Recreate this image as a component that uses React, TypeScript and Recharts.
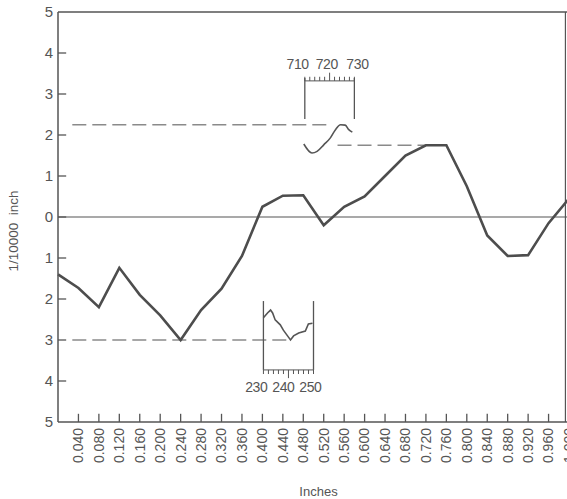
import { LineChart, Line, XAxis, YAxis, ReferenceLine, ReferenceDot, Label } from 'recharts';

// surface profile (x in inches, y in 1/10000 inch)
const INCHES = [0, 0.04, 0.08, 0.12, 0.16, 0.2, 0.24, 0.28, 0.32, 0.36, 0.4, 0.44, 0.48,
  0.52, 0.56, 0.6, 0.64, 0.68, 0.72, 0.76, 0.8, 0.84, 0.88, 0.92, 0.96, 1.0];
const DEVIATION = [-1.4, -1.73, -2.2, -1.24, -1.9, -2.4, -3.0, -2.27, -1.75, -0.95, 0.25, 0.52, 0.53,
  -0.2, 0.25, 0.5, 1.0, 1.5, 1.75, 1.75, 0.75, -0.45, -0.95, -0.93, -0.15, 0.45];

const X_TICKS = INCHES.slice(1);
const Y_TICKS = [-5, -4, -3, -2, -1, 0, 1, 2, 3, 4, 5];

// upper magnified detail (710-730)
const UPPER_X = [0.481, 0.497, 0.507, 0.52, 0.533, 0.543, 0.553, 0.562, 0.569, 0.576];
const UPPER_Y = [1.78, 1.56, 1.6, 1.76, 1.93, 2.13, 2.25, 2.24, 2.13, 2.07];
const UPPER_LABELS = [710, 720, 730];
const UPPER_LABEL_X = [0.469, 0.526, 0.586];
// lower magnified detail (230-250)
const LOWER_X = [0.402, 0.41, 0.416, 0.42, 0.425, 0.435, 0.441, 0.451, 0.455, 0.461, 0.471, 0.484, 0.49, 0.498];
const LOWER_Y = [-2.46, -2.34, -2.27, -2.34, -2.51, -2.63, -2.76, -2.93, -3.0, -2.9, -2.83, -2.78, -2.61, -2.59];
const LOWER_LABELS = [230, 240, 250];
const LOWER_LABEL_X = [0.388, 0.441, 0.494];

// dashed level lines: [x start, x end, level]
const LEVELS = [
  [0.028, 0.535, 2.25],
  [0.547, 0.72, 1.75],
  [0.028, 0.455, -3.0],
];

const zip = (xs: number[], ys: number[]) => xs.map((x, i) => ({ x, y: ys[i] }));
const profile = zip(INCHES, DEVIATION);

const INK = '#555';
const FONT = '"Liberation Sans", Arial, sans-serif';
const FRAME_RIGHT = 0.993;

// brackets of the two insets
const UP = { x0: 0.483, x1: 0.58, top: 3.39, bottom: 2.39, ruler: 3.32, label: 3.72 };
const LO = { x0: 0.402, x1: 0.5, top: -2.05, bottom: -3.73, ruler: -3.73, label: -4.14 };

const rulerTicks = (b: typeof UP, labels: number[], dir: number) => {
  const lo = labels[0];
  const hi = labels[labels.length - 1];
  const out = [];
  for (let v = lo; v <= hi; v += 2) {
    const x = b.x0 + ((v - lo) / (hi - lo)) * (b.x1 - b.x0);
    const len = v === labels[1] ? 0.2 : 0.1;
    out.push({ x, y1: b.ruler, y2: b.ruler + dir * len });
  }
  return out;
};

const InchTick = ({ x, y, payload }: any) => (
  <text x={x} y={y} transform={`rotate(-90 ${x} ${y})`} textAnchor="end" dy="0.35em"
    fontSize={14} fill={INK} fontFamily={FONT}>
    {Number(payload.value).toFixed(3)}
  </text>
);

const insetLabel = { position: 'center', fontSize: 14, letterSpacing: -0.4, fill: INK, fontFamily: FONT } as const;

export default function App() {
  const seg = (x1: number, y1: number, x2: number, y2: number, key: string, w = 1.3) => (
    <ReferenceLine key={key} segment={[{ x: x1, y: y1 }, { x: x2, y: y2 }]} stroke={INK} strokeWidth={w} />
  );

  return (
    <div style={{ position: 'absolute', left: 0, top: 0, width: 567, height: 499, overflow: 'hidden', background: '#fff' }}>
      <LineChart width={575} height={499} margin={{ top: 12, right: 6, bottom: 0, left: 0 }}>
        <XAxis type="number" dataKey="x" domain={[0, 1]} ticks={X_TICKS} interval={0}
          tick={<InchTick />} tickLine={false} tickSize={0} tickMargin={6} height={77}
          axisLine={{ stroke: INK, strokeWidth: 1.5 }}>
          <Label value="Inches" position="insideBottom" offset={3} dx={5} fontSize={13} fill={INK} fontFamily={FONT} />
        </XAxis>
        <YAxis type="number" domain={[-5, 5]} ticks={Y_TICKS} interval={0} width={58}
          tickFormatter={(v) => String(Math.abs(v))} tickLine={false} tickSize={0} tickMargin={5}
          tick={{ fontSize: 15, fill: INK, fontFamily: FONT }}
          axisLine={{ stroke: INK, strokeWidth: 1.5 }}>
          <Label
            content={({ viewBox }: any) => {
              const cx = viewBox.x + 18;
              const cy = viewBox.y + viewBox.height / 2 + 14;
              return (
                <text x={cx} y={cy} transform={`rotate(-90 ${cx} ${cy})`} textAnchor="middle"
                  fontSize={13.5} fill={INK} fontFamily={FONT} xmlSpace="preserve">
                  1/10000  inch
                </text>
              );
            }}
          />
        </YAxis>

        <ReferenceLine y={5} stroke={INK} strokeWidth={1.3} />
        <ReferenceLine y={0} stroke={INK} strokeWidth={1.1} />
        {seg(FRAME_RIGHT, -5, FRAME_RIGHT, 5, 'frame', 1.2)}

        {Y_TICKS.slice(1, -1).map((v) => seg(0, v, 0.016, v, `yt${v}`, 1.3))}
        {X_TICKS.slice(0, -1).map((v) => seg(v, -5, v, -4.8, `xt${v}`, 1.3))}

        {LEVELS.map(([a, b, lv], i) => (
          <Line key={`lv${i}`} data={[{ x: a, y: lv }, { x: b, y: lv }]} dataKey="y" stroke="#8a8a8a"
            strokeWidth={1.3} strokeDasharray="14 6" dot={false} isAnimationActive={false} />
        ))}

        {/* upper inset */}
        {seg(UP.x0, UP.top, UP.x0, UP.bottom, 'u0')}
        {seg(UP.x1, UP.top, UP.x1, UP.bottom, 'u1')}
        {seg(UP.x0, UP.ruler, UP.x1, UP.ruler, 'ur', 1)}
        {rulerTicks(UP, UPPER_LABELS, 1).map((t, i) => seg(t.x, t.y1, t.x, t.y2, `urt${i}`, 1))}
        {UPPER_LABELS.map((v, i) => (
          <ReferenceDot key={`ul${v}`} x={UPPER_LABEL_X[i]} y={UP.label} r={0}
            fill="none" stroke="none" label={{ value: String(v), ...insetLabel }} />
        ))}
        <Line data={zip(UPPER_X, UPPER_Y)} dataKey="y" type="monotone" stroke={INK} strokeWidth={1.6}
          dot={false} isAnimationActive={false} />

        {/* lower inset */}
        {seg(LO.x0, LO.top, LO.x0, LO.bottom, 'l0')}
        {seg(LO.x1, LO.top, LO.x1, LO.bottom, 'l1')}
        {seg(LO.x0, LO.ruler, LO.x1, LO.ruler, 'lr', 1)}
        {rulerTicks(LO, LOWER_LABELS, -1).map((t, i) => seg(t.x, t.y1, t.x, t.y2, `lrt${i}`, 1))}
        {LOWER_LABELS.map((v, i) => (
          <ReferenceDot key={`ll${v}`} x={LOWER_LABEL_X[i]} y={LO.label} r={0}
            fill="none" stroke="none" label={{ value: String(v), ...insetLabel }} />
        ))}
        <Line data={zip(LOWER_X, LOWER_Y)} dataKey="y" type="linear" stroke={INK} strokeWidth={1.6}
          dot={false} isAnimationActive={false} />

        <Line data={profile} dataKey="y" type="linear" stroke="#4d4d4d" strokeWidth={2.6}
          dot={false} isAnimationActive={false} />
      </LineChart>
    </div>
  );
}
